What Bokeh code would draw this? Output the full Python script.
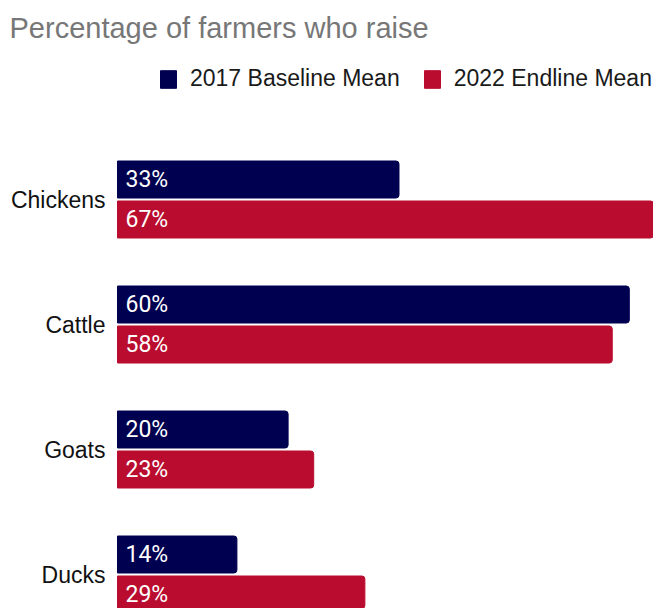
from bokeh.plotting import figure
from bokeh.models import ColumnDataSource, Label, Legend, LegendItem, Range1d
from bokeh.core.properties import value
from bokeh.embed import file_html
from bokeh.resources import INLINE

categories = ["Chickens", "Cattle", "Goats", "Ducks"]
baseline_2017 = [33, 60, 20, 14]
endline_2022 = [67, 58, 23, 29]
series_names = ["2017 Baseline Mean", "2022 Endline Mean"]
colors = ["#000050", "#BA0C2F"]
title_text = "Percentage of farmers who raise"

n = len(categories)
ypos = [n - 1 - i for i in range(n)]
off = 0.16
bh = 0.296

src_b = ColumnDataSource(dict(y=[y + off for y in ypos], v=baseline_2017,
                              lbl=[f"{v}%" for v in baseline_2017]))
src_e = ColumnDataSource(dict(y=[y - off for y in ypos], v=endline_2022,
                              lbl=[f"{v}%" for v in endline_2022]))
src_c = ColumnDataSource(dict(y=ypos, cat=categories, z=[0] * n))

W, H = 653, 608
px_per = 8.53
left_px = 117
unit = 125.0
p = figure(width=W, height=H, output_backend="svg", toolbar_location=None,
           x_range=Range1d(-left_px / px_per, (W - left_px) / px_per),
           y_range=Range1d(-(608 - 574) / unit, (n - 1) + 199 / unit),
           min_border=0, outline_line_color=None)
p.axis.visible = False
p.grid.visible = False
p.background_fill_color = "white"

rb = p.hbar(y="y", left=0, right="v", height=bh, source=src_b, color=colors[0],
            border_radius=(0, 3, 3, 0))
re = p.hbar(y="y", left=0, right="v", height=bh, source=src_e, color=colors[1],
            border_radius=(0, 3, 3, 0))

for s in (src_b, src_e):
    p.text(x=0, y="y", text="lbl", source=s, x_offset=8, text_baseline="middle",
           text_color="white", text_font=value("Roboto"), text_font_size="23px")

p.text(x="z", y="y", text="cat", source=src_c, x_offset=-12, text_align="right",
       text_baseline="middle", text_color="#111111",
       text_font=value("Liberation Sans"), text_font_size="23px")

p.add_layout(Label(x=9, y=H - 27, x_units="screen", y_units="screen", text=title_text,
                   text_font="Liberation Sans", text_font_size="29px", text_color="#777777",
                   text_baseline="alphabetic"))

legend = Legend(items=[LegendItem(label=series_names[0], renderers=[rb]),
                       LegendItem(label=series_names[1], renderers=[re])],
                orientation="horizontal", location=(158, H - 92),
                glyph_width=20, glyph_height=22, label_standoff=12, spacing=22,
                padding=0, margin=0, border_line_color=None, background_fill_alpha=0,
                label_text_font="Liberation Sans", label_text_font_size="23px",
                label_text_color="#1a1a1a", label_height=22)
p.add_layout(legend)

open("out.html", "w").write(file_html(p, INLINE))
